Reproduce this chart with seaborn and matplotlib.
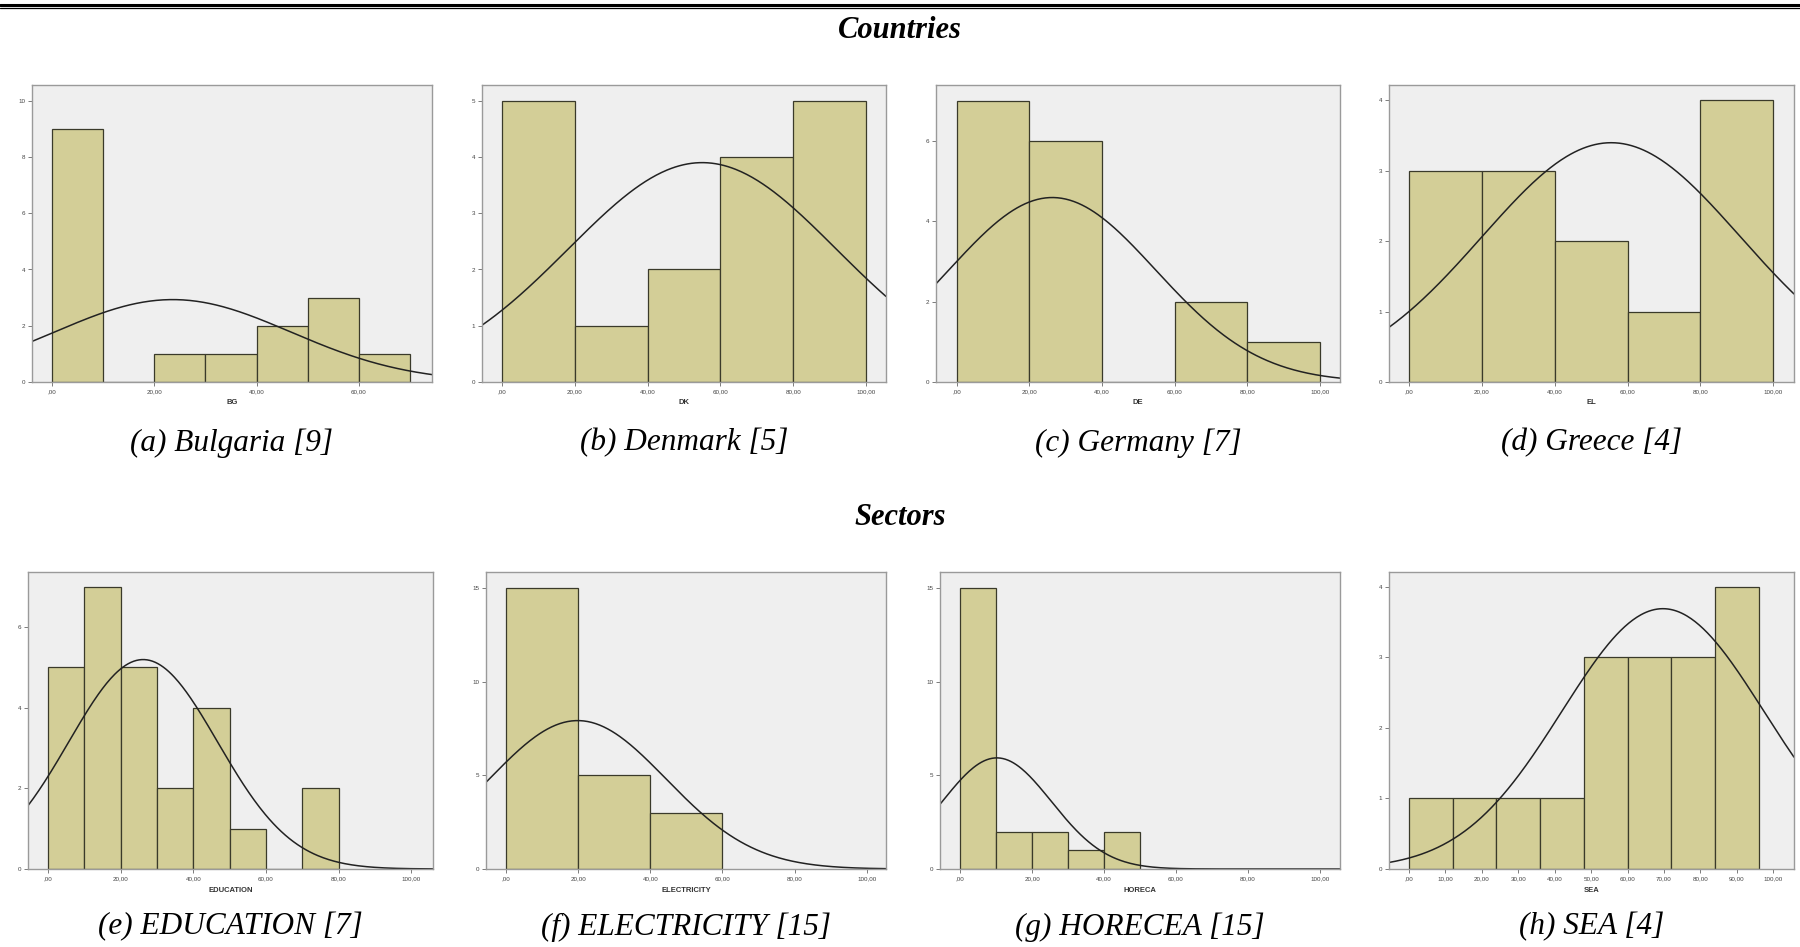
import numpy as np
import pandas as pd
import seaborn as sns
import matplotlib.pyplot as plt
from matplotlib.lines import Line2D

# histogram data (bin edges + counts)
bg_edges = [0, 10, 20, 30, 40, 50, 60, 70]
bg_counts = [9, 0, 1, 1, 2, 3, 1]
dk_edges = [0, 20, 40, 60, 80, 100]
dk_counts = [5, 1, 2, 4, 5]
de_edges = [0, 20, 40, 60, 80, 100]
de_counts = [7, 6, 0, 2, 1]
el_edges = [0, 20, 40, 60, 80, 100]
el_counts = [3, 3, 2, 1, 4]
edu_edges = [0, 10, 20, 30, 40, 50, 60, 70, 80]
edu_counts = [5, 7, 5, 2, 4, 1, 0, 2]
elec_edges = [0, 20, 40, 60]
elec_counts = [15, 5, 3]
hor_edges = [0, 10, 20, 30, 40, 50]
hor_counts = [15, 2, 2, 1, 2]
sea_edges = [0, 12, 24, 36, 48, 60, 72, 84, 96]
sea_counts = [1, 1, 1, 1, 3, 3, 3, 4]

# normal curve overlays: mean, sd, peak height
curve_mean = [23.6, 55.0, 26.3, 55.5, 26.2, 19.9, 10.2, 69.7]
curve_sd = [23.1, 36.8, 28.5, 35.5, 20.5, 24.5, 15.2, 27.7]
curve_peak = [2.93, 3.90, 4.59, 3.40, 5.19, 7.92, 5.93, 3.69]

var_names = ["BG", "DK", "DE", "EL", "EDUCATION", "ELECTRICITY", "HORECA", "SEA"]
captions = ["(a) Bulgaria [9]", "(b) Denmark [5]", "(c) Germany [7]", "(d) Greece [4]",
            "(e) EDUCATION [7]", "(f) ELECTRICITY [15]", "(g) HORECEA [15]", "(h) SEA [4]"]
y_ticks = [[0, 2, 4, 6, 8, 10], [0, 1, 2, 3, 4, 5], [0, 2, 4, 6], [0, 1, 2, 3, 4],
           [0, 2, 4, 6], [0, 5, 10, 15], [0, 5, 10, 15], [0, 1, 2, 3, 4]]
x_ticks = [[0, 20, 40, 60], list(range(0, 101, 20)), list(range(0, 101, 20)),
           list(range(0, 101, 20)), list(range(0, 101, 20)), list(range(0, 101, 20)),
           list(range(0, 101, 20)), list(range(0, 101, 10))]

all_edges = [bg_edges, dk_edges, de_edges, el_edges, edu_edges, elec_edges, hor_edges, sea_edges]
all_counts = [bg_counts, dk_counts, de_counts, el_counts, edu_counts, elec_counts, hor_counts, sea_counts]

# axis limits (x from panel frame, y top)
x_lims = [(-3.9, 74.3), (-5.5, 105.5), (-5.7, 105.5), (-5.5, 105.7),
          (-5.5, 106.0), (-5.5, 105.3), (-5.6, 105.6), (-5.5, 105.7)]
y_tops = [10.56, 5.28, 7.39, 4.22, 7.36, 15.85, 15.85, 4.21]

sns.set_style("white", {"axes.facecolor": "#efefef", "axes.edgecolor": "#9a9a9a"})
plt.rcParams['font.family'] = ['Liberation Sans', 'DejaVu Sans']

W, H = 1800, 947
fig = plt.figure(figsize=(18, 9.47), dpi=100)

# axes boxes in pixels: left, top, right, bottom
boxes = [(32, 85, 432, 382), (482, 85, 886, 382), (936, 85, 1340, 382), (1389, 85, 1794, 382),
         (28, 572, 433, 869), (486, 572, 886, 869), (940, 572, 1340, 869), (1389, 572, 1794, 869)]

def fmt(v):
    return ",00" if v == 0 else f"{v},00"

serif = ["Liberation Serif", "DejaVu Serif"]

for i in range(8):
    l, t, r, b = boxes[i]
    ax = fig.add_axes([l / W, 1 - b / H, (r - l) / W, (b - t) / H])
    edges = all_edges[i]
    centers = [(edges[k] + edges[k + 1]) / 2 for k in range(len(edges) - 1)]
    df = pd.DataFrame({"x": centers, "n": all_counts[i]})
    sns.histplot(data=df, x="x", weights="n", bins=edges, ax=ax,
                 color="#d3ce97", alpha=1, edgecolor="#3a3a2a", linewidth=0.9)
    xs = np.linspace(x_lims[i][0], x_lims[i][1], 300)
    ys = curve_peak[i] * np.exp(-0.5 * ((xs - curve_mean[i]) / curve_sd[i]) ** 2)
    sns.lineplot(x=xs, y=ys, ax=ax, color="#222222", linewidth=1.1)
    ax.set_xlim(*x_lims[i])
    ax.set_ylim(0, y_tops[i])
    ax.set_xticks(x_ticks[i])
    ax.set_xticklabels([fmt(v) for v in x_ticks[i]])
    ax.set_yticks(y_ticks[i])
    ax.tick_params(axis="both", labelsize=4.5, length=3, width=0.6, color="#666666",
                   labelcolor="#444444", pad=2, direction="out")
    ax.tick_params(left=True, bottom=True)
    ax.set_xlabel(var_names[i], fontsize=5.5, fontweight="bold", color="#333333", labelpad=4)
    ax.set_ylabel("")
    for s in ax.spines.values():
        s.set_linewidth(1.0)
    cx = (l + r) / 2 / W
    cy = 1 - (443 if i < 4 else 927) / H
    fig.text(cx, cy, captions[i], ha="center", va="center", fontsize=22.5,
             style="italic", family=serif, color="black")

fig.text(0.5, 1 - 30 / H, "Countries", ha="center", va="center", fontsize=22,
         style="italic", weight="bold", family=serif, color="black")
fig.text(0.5, 1 - 517 / H, "Sectors", ha="center", va="center", fontsize=22,
         style="italic", weight="bold", family=serif, color="black")

# double rule at top
fig.add_artist(Line2D([0, 1], [1 - 5 / H, 1 - 5 / H], color="black", linewidth=2.2))
fig.add_artist(Line2D([0, 1], [1 - 8.5 / H, 1 - 8.5 / H], color="black", linewidth=0.9))

fig.savefig("out.png", dpi=100, facecolor="white")
